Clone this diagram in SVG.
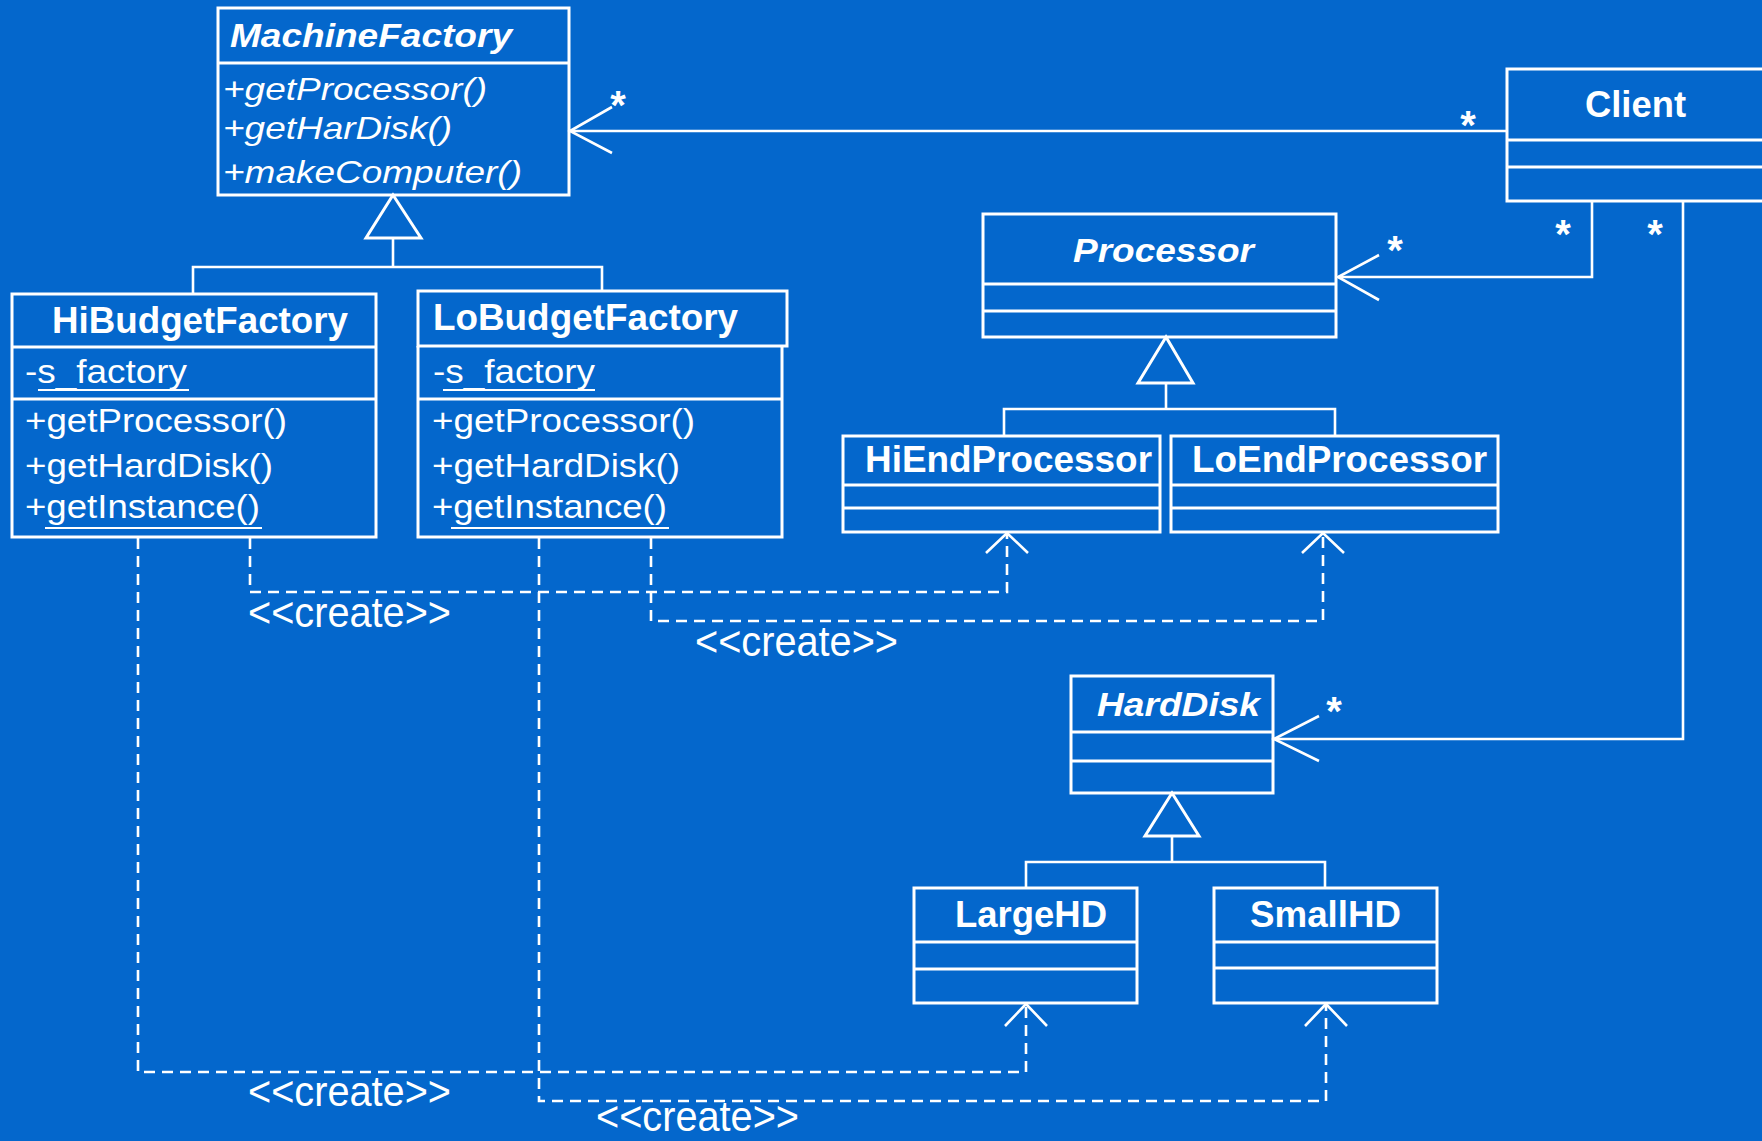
<svg xmlns="http://www.w3.org/2000/svg" width="1762" height="1141" viewBox="0 0 1762 1141">
<style>
  .box { fill: none; stroke: #ffffff; stroke-width: 3; }
  .ln { fill: none; stroke: #ffffff; stroke-width: 2.6; }
  .dash { fill: none; stroke: #ffffff; stroke-width: 2.6; stroke-dasharray: 11 7; }
  .tri { fill: none; stroke: #ffffff; stroke-width: 3; stroke-linejoin: miter; }
  text { fill: #ffffff; font-family: "Liberation Sans", Arial, sans-serif; }
  .title { font-size: 36px; font-weight: bold; }
  .atitle { font-size: 34px; font-weight: bold; font-style: italic; }
  .op { font-size: 34px; }
  .aop { font-size: 32px; font-style: italic; }
  .star { font-size: 40px; font-weight: bold; text-anchor: middle; }
  .lbl { font-size: 42px; }
</style>
<rect x="0" y="0" width="1762" height="1141" fill="#0467CC"/>

<g id="connectors">
  <!-- generalizations -->
  <polygon class="tri" points="393,195 366,238 421,238"/>
  <polyline class="ln" points="393,238 393,267"/>
  <polyline class="ln" points="193,294 193,267 602,267 602,291"/>

  <polygon class="tri" points="1166,337 1138,383 1193,383"/>
  <polyline class="ln" points="1166,383 1166,409"/>
  <polyline class="ln" points="1004,436 1004,409 1335,409 1335,436"/>

  <polygon class="tri" points="1172,793 1145,836 1199,836"/>
  <polyline class="ln" points="1172,836 1172,862"/>
  <polyline class="ln" points="1026,888 1026,862 1325,862 1325,888"/>

  <!-- associations -->
  <polyline class="ln" points="1507,131 570,131"/>
  <polyline class="ln" points="612,107 570,131 612,153"/>
  <polyline class="ln" points="1592,201 1592,277 1338,277"/>
  <polyline class="ln" points="1379,255 1338,277 1379,300"/>
  <polyline class="ln" points="1683,201 1683,739 1274,739"/>
  <polyline class="ln" points="1319,716 1274,739 1319,761"/>

  <!-- dependencies -->
  <polyline class="dash" points="138,538 138,1072 1026,1072 1026,1005"/>
  <polyline class="ln" points="1005,1026 1026,1004 1047,1026"/>
  <polyline class="dash" points="250,538 250,592 1007,592 1007,534"/>
  <polyline class="ln" points="986,553 1007,533 1028,553"/>
  <polyline class="dash" points="539,538 539,1101 1326,1101 1326,1005"/>
  <polyline class="ln" points="1305,1026 1326,1004 1347,1026"/>
  <polyline class="dash" points="651,538 651,621 1323,621 1323,534"/>
  <polyline class="ln" points="1302,553 1323,533 1344,553"/>

  <!-- multiplicities -->
  <text class="star" x="618" y="119">*</text>
  <text class="star" x="1468" y="139">*</text>
  <text class="star" x="1395" y="264">*</text>
  <text class="star" x="1563" y="248">*</text>
  <text class="star" x="1655" y="248">*</text>
  <text class="star" x="1334" y="725">*</text>

  <!-- stereotypes -->
  <text class="lbl" x="248" y="627" textLength="203" lengthAdjust="spacingAndGlyphs">&lt;&lt;create&gt;&gt;</text>
  <text class="lbl" x="695" y="656" textLength="203" lengthAdjust="spacingAndGlyphs">&lt;&lt;create&gt;&gt;</text>
  <text class="lbl" x="248" y="1106" textLength="203" lengthAdjust="spacingAndGlyphs">&lt;&lt;create&gt;&gt;</text>
  <text class="lbl" x="596" y="1131" textLength="203" lengthAdjust="spacingAndGlyphs">&lt;&lt;create&gt;&gt;</text>
</g>

<g id="MachineFactory">
  <rect class="box" x="218" y="8" width="351" height="187"/>
  <line class="box" x1="218" y1="63" x2="569" y2="63"/>
  <text class="atitle" x="230" y="47" textLength="282" lengthAdjust="spacingAndGlyphs">MachineFactory</text>
  <text class="aop" x="223" y="100" textLength="264" lengthAdjust="spacingAndGlyphs">+getProcessor()</text>
  <text class="aop" x="223" y="139" textLength="229" lengthAdjust="spacingAndGlyphs">+getHarDisk()</text>
  <text class="aop" x="223" y="183" textLength="299" lengthAdjust="spacingAndGlyphs">+makeComputer()</text>
</g>

<g id="HiBudgetFactory">
  <rect class="box" x="12" y="294" width="364" height="243"/>
  <line class="box" x1="12" y1="347" x2="376" y2="347"/>
  <line class="box" x1="12" y1="399" x2="376" y2="399"/>
  <text class="title" x="52" y="333" textLength="296" lengthAdjust="spacingAndGlyphs">HiBudgetFactory</text>
  <text class="op" x="25" y="383" textLength="162" lengthAdjust="spacingAndGlyphs">-s_factory</text>
  <line x1="38" y1="390" x2="189" y2="390" stroke="#fff" stroke-width="2"/>
  <text class="op" x="25" y="432" textLength="262" lengthAdjust="spacingAndGlyphs">+getProcessor()</text>
  <text class="op" x="25" y="477" textLength="248" lengthAdjust="spacingAndGlyphs">+getHardDisk()</text>
  <text class="op" x="25" y="518" textLength="235" lengthAdjust="spacingAndGlyphs">+getInstance()</text>
  <line x1="45" y1="528" x2="262" y2="528" stroke="#fff" stroke-width="2"/>
</g>

<g id="LoBudgetFactory">
  <rect class="box" x="418" y="291" width="369" height="55"/>
  <polyline class="box" points="418,346 418,537 782,537 782,346"/>
  <line class="box" x1="418" y1="399" x2="782" y2="399"/>
  <text class="title" x="433" y="330" textLength="305" lengthAdjust="spacingAndGlyphs">LoBudgetFactory</text>
  <text class="op" x="433" y="383" textLength="162" lengthAdjust="spacingAndGlyphs">-s_factory</text>
  <line x1="443" y1="390" x2="595" y2="390" stroke="#fff" stroke-width="2"/>
  <text class="op" x="432" y="432" textLength="263" lengthAdjust="spacingAndGlyphs">+getProcessor()</text>
  <text class="op" x="432" y="477" textLength="248" lengthAdjust="spacingAndGlyphs">+getHardDisk()</text>
  <text class="op" x="432" y="518" textLength="235" lengthAdjust="spacingAndGlyphs">+getInstance()</text>
  <line x1="451" y1="528" x2="669" y2="528" stroke="#fff" stroke-width="2"/>
</g>

<g id="Client">
  <rect class="box" x="1507" y="69" width="270" height="132"/>
  <line class="box" x1="1507" y1="140" x2="1777" y2="140"/>
  <line class="box" x1="1507" y1="167" x2="1777" y2="167"/>
  <text class="title" x="1585" y="117" textLength="101" lengthAdjust="spacingAndGlyphs">Client</text>
</g>

<g id="Processor">
  <rect class="box" x="983" y="214" width="353" height="123"/>
  <line class="box" x1="983" y1="284" x2="1336" y2="284"/>
  <line class="box" x1="983" y1="311" x2="1336" y2="311"/>
  <text class="atitle" x="1073" y="262" textLength="181" lengthAdjust="spacingAndGlyphs">Processor</text>
</g>

<g id="HiEndProcessor">
  <rect class="box" x="843" y="436" width="317" height="96"/>
  <line class="box" x1="843" y1="485" x2="1160" y2="485"/>
  <line class="box" x1="843" y1="508" x2="1160" y2="508"/>
  <text class="title" x="865" y="472" textLength="287" lengthAdjust="spacingAndGlyphs">HiEndProcessor</text>
</g>

<g id="LoEndProcessor">
  <rect class="box" x="1171" y="436" width="327" height="96"/>
  <line class="box" x1="1171" y1="485" x2="1498" y2="485"/>
  <line class="box" x1="1171" y1="508" x2="1498" y2="508"/>
  <text class="title" x="1192" y="472" textLength="295" lengthAdjust="spacingAndGlyphs">LoEndProcessor</text>
</g>

<g id="HardDisk">
  <rect class="box" x="1071" y="676" width="202" height="117"/>
  <line class="box" x1="1071" y1="732" x2="1273" y2="732"/>
  <line class="box" x1="1071" y1="761" x2="1273" y2="761"/>
  <text class="atitle" x="1097" y="716" textLength="163" lengthAdjust="spacingAndGlyphs">HardDisk</text>
</g>

<g id="LargeHD">
  <rect class="box" x="914" y="888" width="223" height="115"/>
  <line class="box" x1="914" y1="942" x2="1137" y2="942"/>
  <line class="box" x1="914" y1="969" x2="1137" y2="969"/>
  <text class="title" x="955" y="927" textLength="152" lengthAdjust="spacingAndGlyphs">LargeHD</text>
</g>

<g id="SmallHD">
  <rect class="box" x="1214" y="888" width="223" height="115"/>
  <line class="box" x1="1214" y1="942" x2="1437" y2="942"/>
  <line class="box" x1="1214" y1="968" x2="1437" y2="968"/>
  <text class="title" x="1250" y="927" textLength="151" lengthAdjust="spacingAndGlyphs">SmallHD</text>
</g>
</svg>
